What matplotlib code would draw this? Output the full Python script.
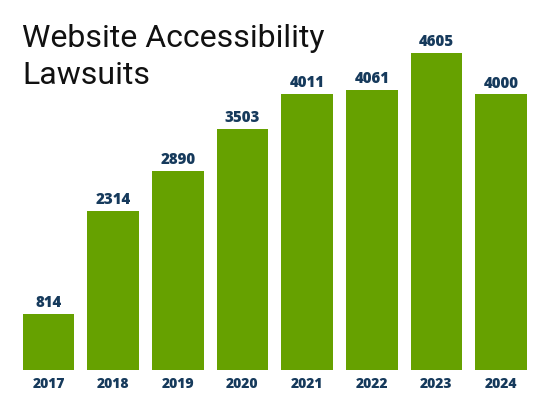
import matplotlib
matplotlib.use("Agg")
import matplotlib.pyplot as plt

years = ["2017", "2018", "2019", "2020", "2021", "2022", "2023", "2024"]
lawsuits = [814, 2314, 2890, 3503, 4011, 4061, 4605, 4000]

GREEN = "#66a100"
NAVY = "#163a5c"

fig = plt.figure(figsize=(5.5, 4.12), dpi=100)
ax = fig.add_axes([16.2 / 550, 42 / 412, (533.4 - 16.2) / 550, 370 / 412])
x = range(len(years))
bars = ax.bar(x, lawsuits, width=0.8, color=GREEN)
ax.set_xlim(-0.5, len(years) - 0.5)
ax.set_ylim(0, 5370)
for b, v in zip(bars, lawsuits):
    ax.annotate(f"{v}", (b.get_x() + b.get_width() / 2, v), xytext=(0, 2),
                textcoords="offset points", ha="center", va="bottom",
                fontsize=10.8, fontweight=800, color=NAVY, family="Open Sans")
ax.set_xticks(list(x))
ax.set_xticklabels(years, fontsize=10, fontweight=800, color=NAVY, family="Open Sans")
ax.tick_params(axis="x", length=0, pad=5)
ax.set_yticks([])
for s in ax.spines.values():
    s.set_visible(False)

fig.text(22 / 550, 1 - 47 / 412, "Website Accessibility", fontsize=23,
         family="Roboto", color="#111111", ha="left", va="baseline")
fig.text(22 / 550, 1 - 84 / 412, "Lawsuits", fontsize=23,
         family="Roboto", color="#111111", ha="left", va="baseline")
fig.savefig("out.png", dpi=100)
